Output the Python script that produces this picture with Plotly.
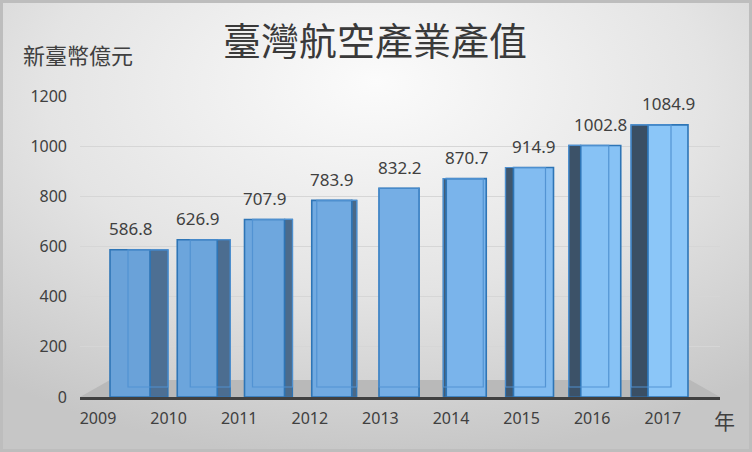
import base64
import plotly.graph_objects as go

# ---- data ----
years = ["2009", "2010", "2011", "2012", "2013", "2014", "2015", "2016", "2017"]
values = [586.8, 626.9, 707.9, 783.9, 832.2, 870.7, 914.9, 1002.8, 1084.9]
y_ticks = [0, 200, 400, 600, 800, 1000, 1200]
title_text = "臺灣航空產業產值"
y_unit = "新臺幣億元"
x_unit = "年"

# ---- geometry / style (pixels) ----
W, H = 752, 452
L, R, T, B = 80, 32, 96, 55
pw, ph = W - L - R, H - T - B
bar_step = 67.25            # px between bar centres
first_bar = 130             # px centre of first bar (figure coords)
lab_step = 70.6             # px between category labels
first_lab = 98
bx0 = -(first_bar - L) / bar_step
bar_range = [bx0, bx0 + pw / bar_step]
lx0 = -(first_lab - L) / lab_step
lab_range = [lx0, lx0 + pw / lab_step]

front_w = 40 / bar_step
side_px = [18, 13, 8, 5, 0, -3, -8, -12, -17]  # + right, - left
side_w = [max(abs(s), 0.01) / bar_step for s in side_px]
side_off = [front_w / 2 if s >= 0 else -front_w / 2 - abs(s) / bar_step for s in side_px]
back_off = [-front_w / 2 + s / bar_step for s in side_px]
back_base = 10 / (ph / 1200)
front_cols = ["#6aa2d9", "#6ca5dc", "#6ea7de", "#71aae1", "#75aee5", "#7ab4eb",
              "#82bcf1", "#87c2f5", "#8bc6f8"]
side_cols = ["#4d6f93", "#4c6d90", "#4b6b8c", "#4a6988", "#48647f", "#435d76",
             "#3f566d", "#3c5268", "#3a4f64"]
edge = "#2e75b6"
txt = "#404040"
num_font = "Noto Sans"
cjk_font = "Noto Sans CJK TC"
idx = list(range(len(years)))

fig = go.Figure()
fig.add_trace(go.Bar(
    x=idx, y=values, width=side_w, offset=side_off,
    marker=dict(color=side_cols, line=dict(color=edge, width=1.2)),
    hoverinfo="skip", showlegend=False))
fig.add_trace(go.Bar(
    x=idx, y=values, width=front_w, offset=-front_w / 2,
    marker=dict(color=front_cols, line=dict(color=edge, width=1.6)),
    customdata=years, hovertemplate="%{customdata}: %{y}<extra></extra>",
    showlegend=False))
# back edges seen through the translucent front faces
fig.add_trace(go.Bar(
    x=idx, y=[v - back_base for v in values], base=back_base,
    width=front_w, offset=back_off,
    marker=dict(color="rgba(0,0,0,0)", line=dict(color="rgba(80,145,210,0.95)", width=1.2)),
    hoverinfo="skip", showlegend=False))
# invisible trace carrying the category-label axis
fig.add_trace(go.Scatter(x=idx, y=values, xaxis="x2", mode="markers",
                         marker=dict(opacity=0), hoverinfo="skip", showlegend=False))

for i, v in zip(idx, values):
    fig.add_annotation(x=i, y=v, xref="x", yref="y", text=f"{v:.1f}", showarrow=False,
                       yshift=21, font=dict(family=num_font, size=17, color=txt))

# background gradient (decorative)
svg = f'''<svg xmlns="http://www.w3.org/2000/svg" width="{W}" height="{H}" viewBox="0 0 {W} {H}">
<defs><radialGradient id="g" cx="50%" cy="22%" r="80%" fx="50%" fy="18%">
<stop offset="0" stop-color="#fbfbfb"/><stop offset="0.55" stop-color="#e4e4e4"/>
<stop offset="1" stop-color="#c6c6c6"/></radialGradient></defs>
<rect x="0" y="0" width="{W}" height="{H}" fill="url(#g)"/>
<rect x="1.5" y="1.5" width="{W-3}" height="{H-3}" fill="none" stroke="#bdbdbd" stroke-width="3"/>
</svg>'''
src = "data:image/svg+xml;base64," + base64.b64encode(svg.encode()).decode()
fig.add_layout_image(source=src, xref="paper", yref="paper",
                     x=-L / pw, y=1 + T / ph, sizex=W / pw, sizey=H / ph,
                     sizing="stretch", layer="below", xanchor="left", yanchor="top")

# floor
fh = 17 / (ph / 1200)
fig.add_shape(type="path", xref="paper", yref="y", layer="between",
              path=f"M 0,0 L {30/pw},{fh} L {1-30/pw},{fh} L 1,0 Z",
              fillcolor="#b9b9b9", line=dict(width=0))

fig.add_annotation(xref="paper", yref="paper", x=-2 / pw, y=1 + 42 / ph,
                   text=y_unit, showarrow=False, xanchor="center", yanchor="middle",
                   font=dict(family=cjk_font, size=22, color=txt))
fig.add_annotation(xref="paper", yref="paper", x=1 + 4 / pw, y=-23 / ph,
                   text=x_unit, showarrow=False, xanchor="center", yanchor="middle",
                   font=dict(family=cjk_font, size=21, color=txt))

fig.update_layout(
    width=W, height=H,
    margin=dict(l=L, r=R, t=T, b=B, autoexpand=False),
    paper_bgcolor="#dcdcdc", plot_bgcolor="rgba(0,0,0,0)",
    barmode="overlay", hovermode="closest",
    title=dict(text=title_text, x=375 / W, xref="container", xanchor="center",
               y=1 - 42 / H, yref="container", yanchor="middle",
               font=dict(family=cjk_font, size=38, color="#3a3a3a")),
    xaxis=dict(range=bar_range, showgrid=False, automargin=False, zeroline=False,
               showline=True, linecolor="#404040", linewidth=3,
               showticklabels=False, ticks=""),
    xaxis2=dict(range=lab_range, overlaying="x", side="bottom", anchor="y",
                showgrid=False, zeroline=False, showline=False, automargin=False,
                tickvals=idx, ticktext=years, ticks="", ticklabelstandoff=10,
                tickfont=dict(family=num_font, size=16, color=txt)),
    yaxis=dict(range=[0, 1200], tickvals=y_ticks, showgrid=True, automargin=False,
               gridcolor="#d6d6d6", gridwidth=1, zeroline=False,
               ticks="", ticklabelstandoff=12,
               tickfont=dict(family=num_font, size=16, color=txt)),
)

fig.write_html("out.html", config={"displayModeBar": False},
               post_script="document.body.style.margin='0px';")
